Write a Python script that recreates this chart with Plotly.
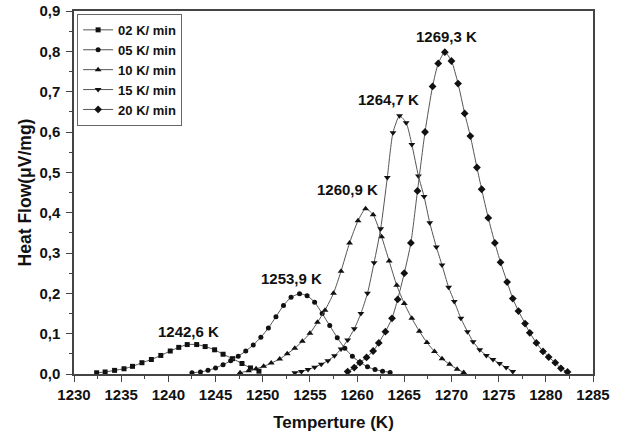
import plotly.graph_objects as go

# ---- data ----
t_02 = [1232.4, 1233.3, 1234.3, 1235.3, 1236.2, 1237.2, 1238.2, 1239.2, 1240.2, 1241.1,
        1242.0, 1243.0, 1243.9, 1244.9, 1245.8, 1246.8, 1247.8, 1248.7, 1249.6]
v_02 = [0.003, 0.005, 0.009, 0.013, 0.019, 0.028, 0.036, 0.046, 0.057, 0.066,
        0.073, 0.073, 0.068, 0.060, 0.049, 0.038, 0.026, 0.015, 0.007]

t_05 = [1242.5, 1243.4, 1244.2, 1245.0, 1245.8, 1246.6, 1247.4, 1248.2, 1249.0, 1249.8,
        1250.6, 1251.4, 1252.2, 1253.0, 1253.9, 1254.7, 1255.5, 1256.3, 1257.1, 1257.9,
        1258.7, 1259.5, 1260.3, 1261.1, 1261.9, 1262.7, 1263.5]
v_05 = [0.003, 0.005, 0.009, 0.015, 0.023, 0.033, 0.044, 0.057, 0.072, 0.091,
        0.114, 0.142, 0.170, 0.190, 0.199, 0.194, 0.178, 0.150, 0.120, 0.090,
        0.064, 0.044, 0.029, 0.018, 0.011, 0.007, 0.004]

t_10 = [1247.6, 1248.5, 1249.3, 1250.1, 1250.9, 1251.8, 1252.6, 1253.4, 1254.2, 1255.0,
        1255.8, 1256.6, 1257.5, 1258.3, 1259.2, 1260.1, 1260.9, 1261.7, 1262.6, 1263.4,
        1264.2, 1265.0, 1265.8, 1266.6, 1267.4, 1268.2, 1269.0, 1269.8, 1270.6, 1271.3]
v_10 = [0.003, 0.008, 0.013, 0.019, 0.027, 0.037, 0.050, 0.064, 0.081, 0.101,
        0.128, 0.158, 0.200, 0.255, 0.325, 0.380, 0.410, 0.395, 0.340, 0.280,
        0.220, 0.175, 0.138, 0.106, 0.078, 0.056, 0.038, 0.024, 0.012, 0.004]

t_15 = [1253.4, 1254.1, 1254.8, 1255.5, 1256.2, 1256.9, 1257.6, 1258.3, 1259.0, 1259.7,
        1260.4, 1261.1, 1261.8, 1262.5, 1263.2, 1263.8, 1264.5, 1265.2, 1265.8, 1266.5,
        1267.1, 1267.7, 1268.4, 1269.0, 1269.7, 1270.3, 1271.0, 1271.7, 1272.3, 1273.0,
        1273.7, 1274.4, 1275.1, 1275.8, 1276.5]
v_15 = [0.003, 0.006, 0.011, 0.017, 0.024, 0.033, 0.045, 0.062, 0.084, 0.112,
        0.150, 0.200, 0.276, 0.360, 0.487, 0.598, 0.640, 0.623, 0.569, 0.491,
        0.440, 0.375, 0.315, 0.270, 0.215, 0.180, 0.138, 0.105, 0.080, 0.060,
        0.046, 0.036, 0.026, 0.016, 0.006]

t_20 = [1259.0, 1259.7, 1260.3, 1261.0, 1261.7, 1262.3, 1263.0, 1263.7, 1264.3, 1265.0,
        1265.7, 1266.4, 1267.2, 1268.0, 1268.6, 1269.3, 1270.0, 1270.7, 1271.4, 1272.0,
        1272.7, 1273.2, 1273.9, 1274.6, 1275.2, 1275.9, 1276.5, 1277.1, 1277.8, 1278.3,
        1279.0, 1279.7, 1280.3, 1281.0, 1281.6, 1282.3]
v_20 = [0.006, 0.016, 0.028, 0.041, 0.057, 0.077, 0.105, 0.138, 0.185, 0.250,
        0.325, 0.454, 0.600, 0.713, 0.770, 0.798, 0.776, 0.720, 0.646, 0.590,
        0.512, 0.458, 0.387, 0.325, 0.277, 0.228, 0.187, 0.156, 0.125, 0.102,
        0.077, 0.056, 0.042, 0.028, 0.014, 0.005]

series_names = ["02 K/ min", "05 K/ min", "10 K/ min", "15 K/ min", "20 K/ min"]
series_t = [t_02, t_05, t_10, t_15, t_20]
series_v = [v_02, v_05, v_10, v_15, v_20]
symbols = ["square", "circle", "triangle-up", "triangle-down", "diamond"]
sizes = [5, 5, 6, 6, 6]

peak_labels = ["1242,6 K", "1253,9 K", "1260,9 K", "1264,7 K", "1269,3 K"]
label_x = [1242.1, 1253.1, 1259.0, 1263.3, 1269.5]
label_y = [0.106, 0.236, 0.458, 0.681, 0.838]

x_ticks = [1230, 1235, 1240, 1245, 1250, 1255, 1260, 1265, 1270, 1275, 1280, 1285]
y_ticks = [0.0, 0.1, 0.2, 0.3, 0.4, 0.5, 0.6, 0.7, 0.8, 0.9]
y_ticktext = ["0,0", "0,1", "0,2", "0,3", "0,4", "0,5", "0,6", "0,7", "0,8", "0,9"]

FONT = "Liberation Sans, Arial, sans-serif"

fig = go.Figure()
for name, t, v, sym, sz in zip(series_names, series_t, series_v, symbols, sizes):
    fig.add_trace(go.Scatter(
        x=t, y=v, name=name, mode="lines+markers",
        line=dict(color="#555555", width=1, shape="spline", smoothing=0.6),
        marker=dict(symbol=sym, size=sz, color="#111111"),
    ))

for txt, lx, ly in zip(peak_labels, label_x, label_y):
    fig.add_annotation(x=lx, y=ly, text=txt, showarrow=False,
                       font=dict(family=FONT, size=15, color="#111111", weight="bold"))

axis_common = dict(
    showline=True, linecolor="#444444", linewidth=1.5, mirror=True,
    ticks="outside", ticklen=6, tickwidth=1.2, tickcolor="#444444",
    showgrid=False, zeroline=False, automargin=False,
    tickfont=dict(family=FONT, size=15, color="#111111", weight="bold"),
)

fig.update_xaxes(
    range=[1230, 1285], tickvals=x_ticks, ticktext=[str(x) for x in x_ticks],
    minor=dict(dtick=2.5, ticks="outside", ticklen=3, tickcolor="#444444", tick0=1230),
    ticklabelstandoff=0,
    title=dict(text="Temperture (K)", standoff=14,
               font=dict(family=FONT, size=17, color="#111111", weight="bold")),
    **axis_common,
)
fig.update_yaxes(
    range=[0, 0.9], tickvals=y_ticks, ticktext=y_ticktext,
    minor=dict(dtick=0.05, ticks="outside", ticklen=3, tickcolor="#444444", tick0=0),
    ticklabelstandoff=3,
    title=dict(text="Heat Flow(μV/mg)", standoff=3,
               font=dict(family=FONT, size=17.5, color="#111111", weight="bold")),
    **axis_common,
)

fig.update_layout(
    width=627, height=438,
    margin=dict(l=74, r=34, t=11, b=64),
    paper_bgcolor="white", plot_bgcolor="white",
    showlegend=True,
    legend=dict(x=0.006, y=0.992, xanchor="left", yanchor="top",
                bgcolor="white", bordercolor="#666666", borderwidth=1,
                itemwidth=30, tracegroupgap=0,
                font=dict(family=FONT, size=13, color="#111111", weight="bold")),
)

fig.write_html("out.html", config={"displayModeBar": False},
               post_script="document.body.style.margin='0';document.body.style.padding='0';")
